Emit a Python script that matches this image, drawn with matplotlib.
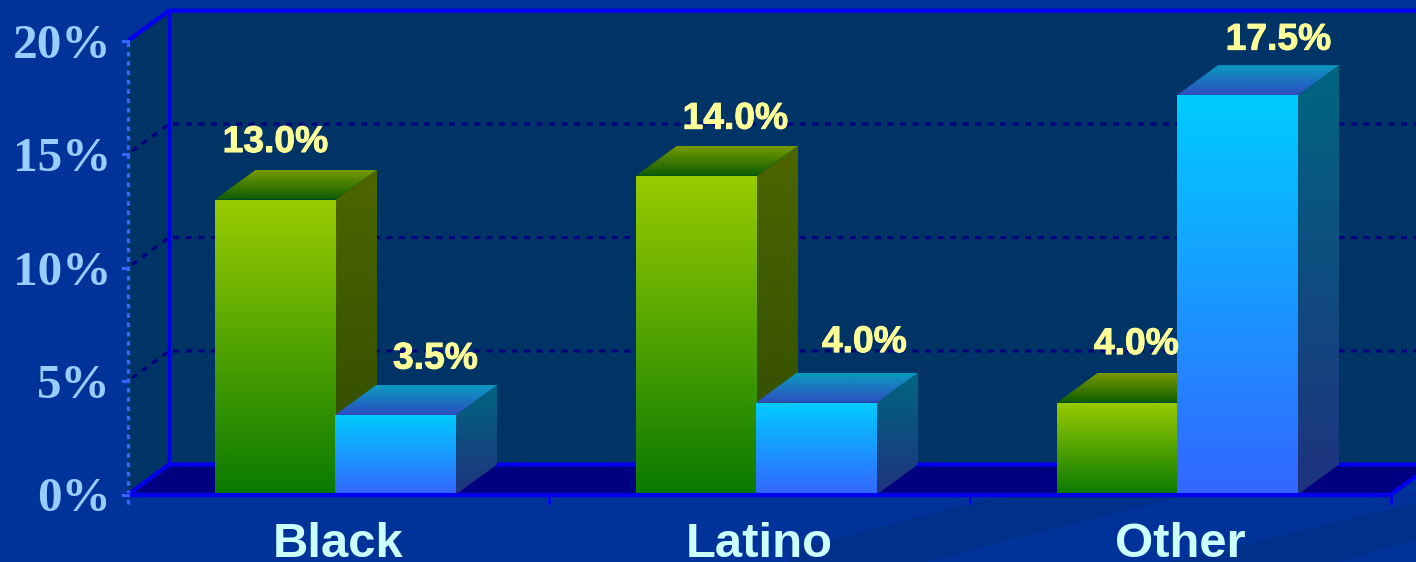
"""
3D-look grouped bar chart, drawn by hand on one axes spanning the whole figure.
"""
import matplotlib
matplotlib.use('Agg')
import matplotlib.pyplot as plt
import matplotlib.patheffects as pe
import numpy as np
from matplotlib.colors import LinearSegmentedColormap, to_rgb
from matplotlib.patches import Polygon

categories = ['Black', 'Latino', 'Other']
y_ticks = [0, 5, 10, 15, 20]
green_heights = [13.0, 14.05, 4.05]
blue_heights = [3.5, 4.05, 17.6]
green_labels = ['13.0%', '14.0%', '4.0%']
blue_labels = ['3.5%', '4.0%', '17.5%']

# Label offsets from the bar's front centre, in pixels (x right, y up)
green_label_dx = [0, 39, 19]
green_label_dy = [57, 56.5, 58]
blue_label_dx = [39, 47, 40]
blue_label_dy = [56, 60, 55]

# Figure layout, in pixels of the 1416x562 picture
W, H = 1416, 562
SLOT = 421.0
X0_PX = 128.0
Y0_PX = 494.5
PX_PER_PCT = 22.69

# Data limits so that one x unit is one category and y is in percent
xlim = ((0 - X0_PX) / SLOT - 0.5, (W - X0_PX) / SLOT - 0.5)
ylim = ((Y0_PX - H) / PX_PER_PCT, Y0_PX / PX_PER_PCT)

DX = 41 / SLOT            # depth of the 3D box
DY = 30 / PX_PER_PCT
BAR_W = 121 / SLOT
BAR_LEFT = -123.5 / SLOT  # left edge of a group, from the category centre
N = len(categories)
X_MAX = N - 0.5


def px(x, y):
    """Picture pixel to data coordinates, for the background shapes only."""
    return ((x - X0_PX) / SLOT - 0.5, (Y0_PX - y) / PX_PER_PCT)


def gradient(ax, poly, top, bottom, zorder):
    """Fill a polygon with a vertical gradient from top colour to bottom colour."""
    pts = np.array(poly)
    cmap = LinearSegmentedColormap.from_list('g', [to_rgb(bottom), to_rgb(top)])
    grad = np.linspace(0, 1, 256).reshape(-1, 1)
    im = ax.imshow(grad, origin='lower', cmap=cmap, aspect='auto', zorder=zorder,
                   extent=(pts[:, 0].min(), pts[:, 0].max(), pts[:, 1].min(), pts[:, 1].max()))
    clip = Polygon(pts, closed=True, transform=ax.transData, facecolor='none', edgecolor='none')
    ax.add_patch(clip)
    im.set_clip_path(clip)


def draw_bar(ax, x, h, w, front, top_face, side, zorder):
    gradient(ax, [(x, 0), (x + w, 0), (x + w, h), (x, h)], front[0], front[1], zorder + 0.2)
    gradient(ax, [(x, h), (x + w, h), (x + w + DX, h + DY), (x + DX, h + DY)],
             top_face[0], top_face[1], zorder + 0.1)
    gradient(ax, [(x + w, 0), (x + w + DX, DY), (x + w + DX, h + DY), (x + w, h)],
             side[0], side[1], zorder)


fig = plt.figure(figsize=(W / 100, H / 100), dpi=100, facecolor='#003399')
ax = fig.add_axes([0, 0, 1, 1])
ax.set_xlim(xlim)
ax.set_ylim(ylim)
ax.axis('off')

# Background swooshes, lower right
band = '#00308a'
for shape in ([(790, 550), (1010, 494), (1190, 494), (925, 562), (790, 562)],
              [(1170, 562), (1416, 503), (1416, 540), (1336, 562)]):
    ax.add_patch(Polygon([px(*p) for p in shape], closed=True, facecolor=band, edgecolor='none', zorder=1))

# Walls and floor
wall = '#003366'
ax.add_patch(Polygon([(-0.5, 0), (-0.5 + DX, DY), (3.2, DY), (3.2, 20 + DY), (-0.5 + DX, 20 + DY), (-0.5, 20)],
                     closed=True, facecolor=wall, edgecolor='none', zorder=2))
ax.add_patch(Polygon([(-0.5, 0), (-0.5 + DX, DY), (3.2, DY), (3.2, 0)],
                     closed=True, facecolor='#000080', edgecolor='none', zorder=2.1))
# corner right of the floor, background colour again
ax.add_patch(Polygon([(X_MAX, 0), (X_MAX + DX, DY), (3.2, DY), (3.2, 0)],
                     closed=True, facecolor='#003399', edgecolor='none', zorder=2.2))

# Gridlines on the walls
for t in y_ticks[1:-1]:
    ax.plot([-0.5 + 4 / SLOT, -0.5 + DX, 3.2], [t + 3 / PX_PER_PCT, t + DY, t + DY], color='#000080', lw=2.2,
            ls=(0, (2.0, 2.1)), zorder=2.5)

# Wall edges
line = '#0000ee'
ax.plot([-0.5 + DX, -0.5 + DX], [DY, 20 + DY], color=line, lw=2.5, zorder=3)
ax.plot([-0.5, -0.5 + DX, 3.2], [20, 20 + DY, 20 + DY], color=line, lw=3.2, zorder=3, solid_capstyle='butt')
ax.plot([-0.5, -0.5 + DX, 3.2], [0, DY, DY], color=line, lw=3, zorder=3)
ax.plot([X_MAX, X_MAX + DX], [0, DY], color=line, lw=3, zorder=3)

# Bars, drawn back to front so the tall bar hides the neighbouring top
GREEN = (('#99cc00', '#0a7a00'), ('#789a00', '#0a5c00'), ('#4d6600', '#2f4a00'))
BLUE = (('#00ccff', '#3366ff'), ('#0a9cc0', '#2d4dc0'), ('#00667f', '#1f3380'))
heavy = [pe.withStroke(linewidth=0.7, foreground='#ffff99')]
for i in range(N):
    left = i + BAR_LEFT
    draw_bar(ax, left, green_heights[i], BAR_W, *GREEN, zorder=4 + i)
    draw_bar(ax, left + BAR_W - 1 / SLOT, blue_heights[i], BAR_W, *BLUE, zorder=4.5 + i)
    ax.text(left + BAR_W / 2 + green_label_dx[i] / SLOT, green_heights[i] + green_label_dy[i] / PX_PER_PCT,
            green_labels[i], ha='center', va='center', path_effects=heavy,
            family='Liberation Sans', fontweight='bold', fontsize=26.8, color='#ffff99', zorder=10)
    ax.text(left + 1.5 * BAR_W + blue_label_dx[i] / SLOT, blue_heights[i] + blue_label_dy[i] / PX_PER_PCT,
            blue_labels[i], ha='center', va='center', path_effects=heavy,
            family='Liberation Sans', fontweight='bold', fontsize=26.8, color='#ffff99', zorder=10)

# Front axis lines and ticks
ax.plot([-0.5, -0.5], [-0.4, 20], color='#3366ff', lw=2.4, ls=(0, (1.4, 1.4)), zorder=11)
ax.plot([-0.5, X_MAX], [0, 0], color=line, lw=3, zorder=11)
for t in y_ticks:
    ax.plot([-0.5 - 5 / SLOT, -0.5], [t, t], color='#3366ff', lw=2.2, zorder=11)
    ax.text(-0.5 - 17 / SLOT, t - 0.22, f'{t}%', ha='right', va='center', family='Liberation Serif',
            fontweight='bold', fontsize=35.5, color='#99ccff', zorder=11)
for i in range(1, N + 1):
    ax.plot([i - 0.5, i - 0.5], [0, -0.38], color=line, lw=2, zorder=11)

# Category labels, close to the bottom edge
for i, name in enumerate(categories):
    ax.text(i, -2.76, name, ha='center', va='baseline', family='Liberation Sans',
            fontweight='bold', fontsize=35.3, color='#ccffff', zorder=11)

ax.set_xlim(xlim)
ax.set_ylim(ylim)
fig.savefig('out.png', dpi=100, facecolor=fig.get_facecolor())
